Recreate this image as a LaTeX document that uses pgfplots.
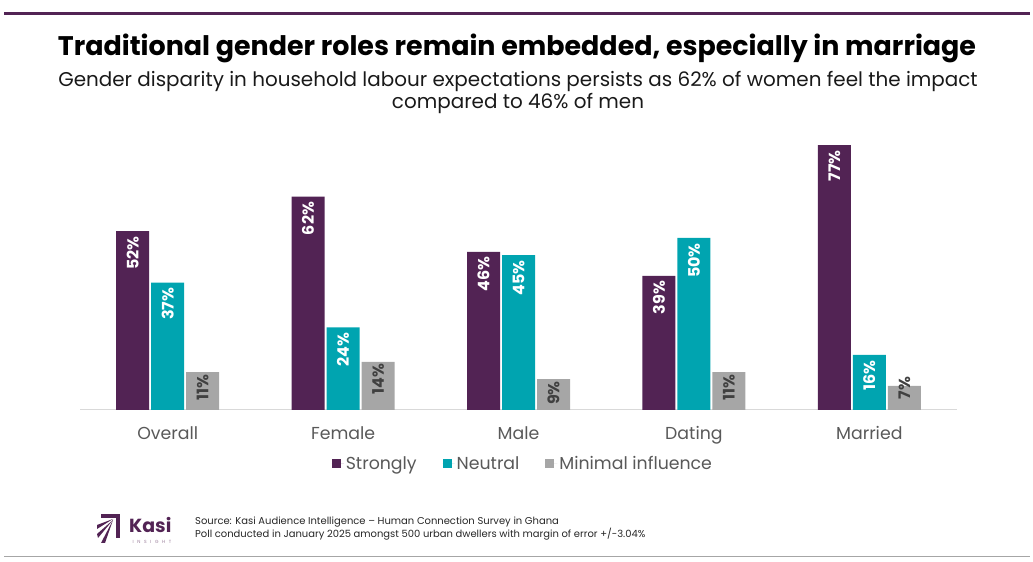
\documentclass[border=0pt]{standalone}
\usepackage{fontspec}
\setmainfont{Poppins}
\usepackage{pgfplots}
\pgfplotsset{compat=1.18}
\definecolor{kpurple}{HTML}{522354}
\definecolor{kteal}{HTML}{00A4B0}
\definecolor{kgray}{HTML}{A6A6A6}
\definecolor{ktext}{HTML}{595959}
\pgfplotsset{sq legend/.style={legend image code/.code={\fill[##1] (0bp,-4.5bp) rectangle (9bp,4.5bp); \path (0bp,0bp) -- (12bp,0bp);}}}
% label text; a short bar lets its label run past the top
\newcommand\barlabel{%
  \pgfmathprintnumber{\pgfplotspointmeta}\%%
  \pgfmathfloattofixed{\pgfplotspointmeta}%
  \ifdim\pgfmathresult pt<8pt\hspace*{-11bp}\fi}
\begin{document}
\begin{tikzpicture}[x=1bp,y=1bp]
\path (0,0) rectangle (1033,562);
\draw[kpurple, line width=3bp] (4,548) -- (1030,548);
\draw[black!35, line width=1bp] (4,5) -- (1030,5);
\node[font=\bfseries\fontsize{27}{30}\selectfont, text=black] at (517,514)
  {Traditional gender roles remain embedded, especially in marriage};
\node[align=center, font=\fontsize{20}{23}\selectfont, text=black!90] at (518,469.5)
  {Gender disparity in household labour expectations persists as 62\% of women feel the impact\\compared to 46\% of men};
\begin{axis}[
  at={(80bp,152bp)}, anchor=south west,
  scale only axis, width=877bp, height=275.2bp,
  xmin=-0.5, xmax=4.5, ymin=0, ymax=80,
  axis x line*=bottom, axis y line=none,
  x axis line style={draw=black!15, line width=1bp},
  ybar=2bp, bar width=33bp,
  xtick={0,1,2,3,4},
  xticklabels={Overall,Female,Male,Dating,Married},
  major tick length=0pt, ytick=\empty,
  xticklabel style={font=\fontsize{17.4}{19}\selectfont, text=ktext, yshift=-13bp},
  clip=false,
  /pgf/number format/assume math mode=true,
  nodes near coords={\barlabel},
  every node near coord/.append style={rotate=90, anchor=east, inner xsep=5bp,
    font=\bfseries\fontsize{16}{16}\selectfont, text=white},
  legend style={at={(0.505,-0.195)}, anchor=center, draw=none, legend columns=3,
    font=\fontsize{17.4}{19}\selectfont, text=ktext,
    /tikz/every even column/.append style={column sep=24bp}},
]
\addplot[fill=kpurple, draw=none, sq legend] coordinates {(0,52) (1,62) (2,46) (3,39) (4,77)};
\addplot[fill=kteal, draw=none, sq legend] coordinates {(0,37) (1,24) (2,45) (3,50) (4,16)};
\addplot[fill=kgray, draw=none, sq legend,
  every node near coord/.append style={text=black!75, inner xsep=2bp}] coordinates {(0,11) (1,14) (2,9) (3,11) (4,7)};
\legend{Strongly, Neutral, Minimal influence}
\end{axis}
% logo
\fill[kpurple] (101,44) rectangle (120,48);
\fill[kpurple] (116,48) rectangle (120,24);
\fill[kpurple] (113,43) -- (97,37) -- (97,33) -- cycle;
\fill[kpurple] (113,42) -- (97,28) -- (98,24) -- cycle;
\fill[kpurple] (113,42) -- (101,19) -- (105,19) -- cycle;
\node[anchor=base west, font=\bfseries\fontsize{19}{20}\selectfont, text=kpurple, inner sep=0pt] at (129,29.5) {Kasi};
\node[font=\fontsize{4.5}{5}\selectfont, text=kpurple!60, inner sep=0pt] at (152,20.5) {I\hspace{3.6bp}N\hspace{3.6bp}S\hspace{3.6bp}I\hspace{3.6bp}G\hspace{3.6bp}H\hspace{3.6bp}T};
\node[anchor=west, align=left, font=\fontsize{10}{13}\selectfont, text=black!85, inner sep=0pt] at (195,33.5)
  {Source: Kasi Audience Intelligence -- Human Connection Survey in Ghana\\Poll conducted in January 2025 amongst 500 urban dwellers with margin of error +/-3.04\%};
\end{tikzpicture}
\end{document}
